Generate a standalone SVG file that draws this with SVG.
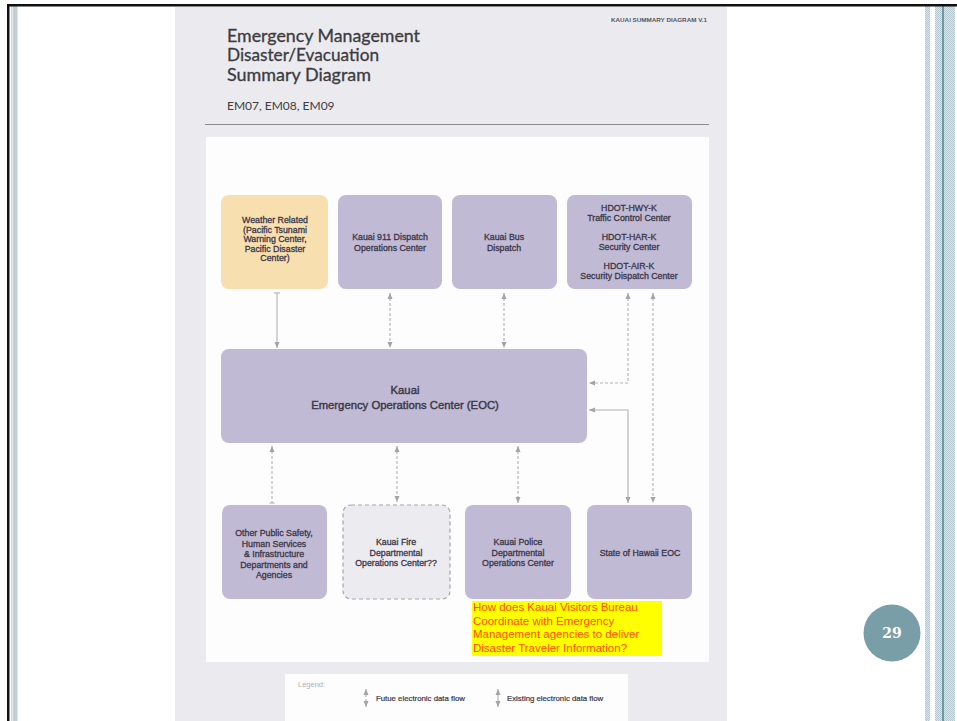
<svg xmlns="http://www.w3.org/2000/svg" width="957" height="721" viewBox="0 0 957 721">
<defs>
<pattern id="dots" width="2" height="2" patternUnits="userSpaceOnUse">
<rect width="2" height="2" fill="#dde6ea"/>
<rect width="1" height="1" fill="#b4c7cf"/>
<rect x="1" y="1" width="1" height="1" fill="#b4c7cf"/>
</pattern>
<marker id="ah" viewBox="0 0 6 6" refX="6" refY="3" markerWidth="6" markerHeight="6" markerUnits="userSpaceOnUse" orient="auto-start-reverse">
<path d="M0,0.5 L6,3 L0,5.5 z" fill="#a3a3a8"/>
</marker>
<style>
.node{fill:#c0bad4}
.nt{font-family:"Liberation Sans",Arial,sans-serif;font-size:8.8px;fill:#3b3648;stroke:#3b3648;stroke-width:0.3;text-anchor:middle}
.c{fill:none;stroke:#b2b2b6;stroke-width:1.1}
.d{stroke-dasharray:3 2}
.ti{font-family:Lato,"Liberation Sans",sans-serif;font-size:16.5px;fill:#3c3c42;stroke:#3c3c42;stroke-width:0.3}
.yl{font-family:"Liberation Sans",Arial,sans-serif;font-size:11.5px;fill:#ff5000}
.lg{font-family:"Liberation Sans",Arial,sans-serif;font-size:7.8px;fill:#3b3648;stroke:#3b3648;stroke-width:0.2}
</style>
</defs>
<rect width="957" height="721" fill="#ffffff"/>
<!-- slide frame -->
<rect x="11" y="6" width="1.5" height="715" fill="#c9d3d8"/>
<rect x="13" y="6" width="4.5" height="715" fill="#c2ced4"/>
<rect x="925" y="6" width="5" height="715" fill="url(#dots)"/>
<rect x="935" y="6" width="20" height="715" fill="url(#dots)"/>
<rect x="942" y="6" width="2" height="715" fill="#7098a4"/>
<rect x="7" y="4" width="950" height="2.5" fill="#111"/>
<rect x="7" y="4" width="2.5" height="717" fill="#111"/>
<!-- page -->
<rect x="175" y="7" width="552" height="714" fill="#ebebef"/>
<text x="707" y="22" font-family="Liberation Sans,Arial,sans-serif" font-size="5.6" font-weight="bold" fill="#55555c" text-anchor="end" textLength="96" lengthAdjust="spacingAndGlyphs">KAUAI SUMMARY DIAGRAM V.1</text>
<text class="ti" x="227" y="42" textLength="193" lengthAdjust="spacingAndGlyphs">Emergency Management</text>
<text class="ti" x="227" y="61" textLength="152" lengthAdjust="spacingAndGlyphs">Disaster/Evacuation</text>
<text class="ti" x="227" y="80.5" textLength="144" lengthAdjust="spacingAndGlyphs">Summary Diagram</text>
<text x="227" y="110" font-family="Lato,Liberation Sans,sans-serif" font-size="12" fill="#3c3c42">EM07, EM08, EM09</text>
<rect x="205" y="124" width="504" height="1" fill="#8a8a90"/>
<rect x="206" y="137" width="503" height="525" fill="#fdfdfe"/>
<!-- connectors -->
<g id="connectors">
<path class="c" d="M277,293 L277,348" marker-end="url(#ah)"/>
<path class="c" d="M274,293 L280,293"/>
<path class="c d" d="M390,293 L390,348" marker-start="url(#ah)" marker-end="url(#ah)"/>
<path class="c d" d="M504,293 L504,348" marker-start="url(#ah)" marker-end="url(#ah)"/>
<path class="c d" d="M628,293 L628,383 L589,383" marker-start="url(#ah)" marker-end="url(#ah)"/>
<path class="c d" d="M653,293 L653,503" marker-start="url(#ah)" marker-end="url(#ah)"/>
<path class="c" d="M589,410 L628,410 L628,503" marker-start="url(#ah)" marker-end="url(#ah)"/>
<path class="c d" d="M272,446 L272,503" marker-start="url(#ah)"/>
<path class="c" d="M269.5,503 L274.5,503"/>
<path class="c d" d="M397,446 L397,502" marker-start="url(#ah)" marker-end="url(#ah)"/>
<path class="c d" d="M518,446 L518,503" marker-start="url(#ah)" marker-end="url(#ah)"/>
</g>
<!-- nodes -->
<g id="weather">
<rect x="221" y="195" width="107" height="94" rx="8" fill="#f7dfb0"/>
<text class="nt"><tspan x="275" y="223">Weather Related</tspan><tspan x="275" y="232.5">(Pacific Tsunami</tspan><tspan x="275" y="242">Warning Center,</tspan><tspan x="275" y="251.5">Pacific Disaster</tspan><tspan x="275" y="261">Center)</tspan></text>
</g>
<g id="dispatch911">
<rect class="node" x="338" y="195" width="104" height="94" rx="8"/>
<text class="nt"><tspan x="390" y="240">Kauai 911 Dispatch</tspan><tspan x="390" y="250.5">Operations Center</tspan></text>
</g>
<g id="bus">
<rect class="node" x="452" y="195" width="105" height="94" rx="8"/>
<text class="nt"><tspan x="504" y="240">Kauai Bus</tspan><tspan x="504" y="250.5">Dispatch</tspan></text>
</g>
<g id="hdot">
<rect class="node" x="567" y="195" width="125" height="94" rx="8"/>
<text class="nt"><tspan x="629" y="211">HDOT-HWY-K</tspan><tspan x="629" y="221">Traffic Control Center</tspan><tspan x="629" y="240">HDOT-HAR-K</tspan><tspan x="629" y="250">Security Center</tspan><tspan x="629" y="268.5">HDOT-AIR-K</tspan><tspan x="629" y="278.5">Security Dispatch Center</tspan></text>
</g>
<g id="eoc">
<rect class="node" x="221" y="349" width="366" height="94" rx="8"/>
<text class="nt" style="font-size:11.3px;stroke-width:0.4"><tspan x="405" y="394">Kauai</tspan><tspan x="405" y="409">Emergency Operations Center (EOC)</tspan></text>
</g>
<g id="other">
<rect class="node" x="222" y="505" width="105" height="94" rx="8"/>
<text class="nt"><tspan x="274" y="536">Other Public Safety,</tspan><tspan x="274" y="546.5">Human Services</tspan><tspan x="274" y="557">&amp; Infrastructure</tspan><tspan x="274" y="567.5">Departments and</tspan><tspan x="274" y="578">Agencies</tspan></text>
</g>
<g id="fire">
<rect x="343" y="505" width="107" height="94" rx="8" fill="#ecebf0" stroke="#a5a5ab" stroke-width="1.2" stroke-dasharray="4 3"/>
<text class="nt"><tspan x="396" y="545">Kauai Fire</tspan><tspan x="396" y="555.5">Departmental</tspan><tspan x="396" y="566">Operations Center??</tspan></text>
</g>
<g id="police">
<rect class="node" x="465" y="505" width="106" height="94" rx="8"/>
<text class="nt"><tspan x="518" y="545">Kauai Police</tspan><tspan x="518" y="555.5">Departmental</tspan><tspan x="518" y="566">Operations Center</tspan></text>
</g>
<g id="state">
<rect class="node" x="587" y="505" width="105" height="94" rx="8"/>
<text class="nt"><tspan x="640" y="555.5">State of Hawaii EOC</tspan></text>
</g>
<g id="note">
<rect x="472" y="601" width="190" height="55" fill="#ffff00"/>
<text class="yl"><tspan x="473" y="611">How does Kauai Visitors Bureau</tspan><tspan x="473" y="624.5">Coordinate with Emergency</tspan><tspan x="473" y="638">Management agencies to deliver</tspan><tspan x="473" y="651.5">Disaster Traveler Information?</tspan></text>
</g>
<!-- legend -->
<g id="legend">
<rect x="285" y="674" width="343" height="47" fill="#fdfdfe"/>
<text x="298" y="687" font-family="Liberation Sans,Arial,sans-serif" font-size="7.5" fill="#b0b0b4">Legend:</text>
<path class="c d" d="M366,689 L366,707" marker-start="url(#ah)" marker-end="url(#ah)"/>
<text class="lg" x="376" y="701">Futue electronic data flow</text>
<path class="c" d="M498,689 L498,707" marker-start="url(#ah)" marker-end="url(#ah)"/>
<text class="lg" x="507" y="701">Existing electronic data flow</text>
</g>
<!-- page number -->
<g id="pagenum">
<circle cx="892" cy="633" r="28.5" fill="#7a9ea8"/>
<text x="892" y="638" font-family="DejaVu Serif,Liberation Serif,serif" font-size="14" font-weight="bold" fill="#ffffff" text-anchor="middle">29</text>
</g>
</svg>
